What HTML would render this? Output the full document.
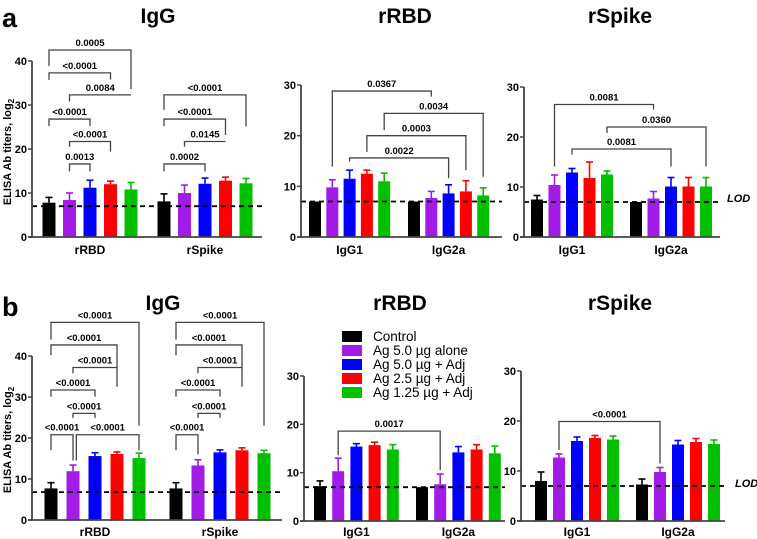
<!DOCTYPE html>
<html><head><meta charset="utf-8"><style>
html,body{margin:0;padding:0;background:#fff;}
svg{display:block;font-family:"Liberation Sans",Arial,sans-serif;}
</style></head><body>
<svg id="fig" width="757" height="539" viewBox="0 0 757 539">
<text x="2" y="27" font-size="27" font-weight="bold">a</text>
<text x="2" y="316" font-size="27" font-weight="bold">b</text>
<text x="158" y="23" font-size="21" font-weight="bold" text-anchor="middle">IgG</text>
<text x="405" y="23" font-size="21" font-weight="bold" text-anchor="middle">rRBD</text>
<text x="620" y="23" font-size="21" font-weight="bold" text-anchor="middle">rSpike</text>
<text x="163" y="310" font-size="21" font-weight="bold" text-anchor="middle">IgG</text>
<text x="400" y="310" font-size="21" font-weight="bold" text-anchor="middle">rRBD</text>
<text x="620" y="310" font-size="21" font-weight="bold" text-anchor="middle">rSpike</text>
<text transform="translate(11,152) rotate(-90)" font-size="11" font-weight="bold" text-anchor="middle">ELISA Ab titers, log<tspan font-size="8" dy="3">2</tspan></text>
<text transform="translate(11,440) rotate(-90)" font-size="11" font-weight="bold" text-anchor="middle">ELISA Ab titers, log<tspan font-size="8" dy="3">2</tspan></text>
<text x="727" y="202" font-size="11" font-weight="bold" font-style="italic">LOD</text>
<text x="735" y="487" font-size="11" font-weight="bold" font-style="italic">LOD</text>
<g>
<rect x="342" y="331" width="20" height="11" fill="#000"/>
<text x="373" y="341" font-size="13.5">Control</text>
<rect x="342" y="345" width="20" height="11" fill="#a21be6"/>
<text x="373" y="355" font-size="13.5">Ag 5.0 µg alone</text>
<rect x="342" y="359" width="20" height="11" fill="#0000ff"/>
<text x="373" y="369" font-size="13.5">Ag 5.0 µg + Adj</text>
<rect x="342" y="373" width="20" height="11" fill="#ff0000"/>
<text x="373" y="383" font-size="13.5">Ag 2.5 µg + Adj</text>
<rect x="342" y="387" width="20" height="11" fill="#00c000"/>
<text x="373" y="397" font-size="13.5">Ag 1.25 µg + Adj</text>
</g>
</svg>
<script>
// ---- data ----
const colors = ["#000000","#a21be6","#0000ff","#ff0000","#00c000"];
const aIgGCats = ["rRBD","rSpike"];
const aIgGVals = [[7.8,8.4,11.2,12.0,10.8],[8.1,10.0,12.1,12.8,12.2]];
const aIgGErr  = [[9.0,10.0,12.9,12.7,12.4],[9.8,11.8,13.4,13.6,13.3]];
const aRbdCats = ["IgG1","IgG2a"];
const aRbdVals = [[7.0,9.8,11.5,12.5,11.0],[7.0,7.7,8.6,9.0,8.2]];
const aRbdErr  = [[7.0,11.3,13.2,13.2,12.6],[7.0,9.0,10.3,11.1,9.7]];
const aSpkCats = ["IgG1","IgG2a"];
const aSpkVals = [[7.5,10.4,12.9,11.8,12.5],[7.0,7.7,10.1,10.1,10.1]];
const aSpkErr  = [[8.3,12.4,13.7,15.0,13.2],[7.0,9.1,11.9,11.9,11.9]];
const bIgGCats = ["rRBD","rSpike"];
const bIgGVals = [[7.7,11.9,15.6,16.1,15.1],[7.7,13.3,16.5,17.0,16.3]];
const bIgGErr  = [[9.1,13.4,16.4,16.6,16.3],[9.1,14.7,17.1,17.6,17.0]];
const bRbdCats = ["IgG1","IgG2a"];
const bRbdVals = [[7.2,10.3,15.4,15.7,14.8],[7.0,7.6,14.2,14.8,14.0]];
const bRbdErr  = [[8.3,13.0,16.0,16.3,15.8],[7.0,9.7,15.4,15.8,15.5]];
const bSpkCats = ["IgG1","IgG2a"];
const bSpkVals = [[8.0,12.7,16.0,16.6,16.3],[7.3,9.8,15.3,15.8,15.4]];
const bSpkErr  = [[9.8,13.4,16.8,17.1,17.0],[8.4,10.7,16.1,16.5,16.2]];
const lodA = 7.0, lodB = 6.8;
const ticks40 = [0,10,20,30,40];
const ticks30 = [0,10,20,30];
// brackets: [group1, bar1, group2, bar2, top, leftEnd, rightEnd, label]
const aIgGBr = [[0,0,0,4,42.5,38.9,33.6,"0.0005"],[0,0,0,3,37.3,35.7,35.8,"<0.0001"],[0,1,0,4,32.3,30.8,32.3,"0.0084"],
 [0,0,0,2,26.8,25.2,25.2,"<0.0001"],[0,1,0,3,21.7,20.5,19.4,"<0.0001"],[0,1,0,2,16.6,14.9,14.9,"0.0013"],
 [1,0,1,4,32.3,28.9,25.1,"<0.0001"],[1,0,1,3,26.8,25.2,23.2,"<0.0001"],[1,1,1,3,21.7,20.5,21.7,"0.0145"],[1,0,1,2,16.6,14.9,14.9,"0.0002"]];
const aRbdBr = [[0,1,1,1,28.8,13.9,27.7,"0.0367"],[0,4,1,4,24.4,21.1,11.9,"0.0034"],[0,3,1,3,20.0,16.8,13.2,"0.0003"],[0,2,1,2,15.6,14.9,11.6,"0.0022"]];
const aSpkBr = [[0,1,1,1,26.5,14.1,25.5,"0.0081"],[0,4,1,4,22.0,20.8,14.1,"0.0360"],[0,2,1,2,17.6,16.5,14.1,"0.0081"]];
const bIgGBr = [[0,0,0,4,48.2,44.0,23.0,"<0.0001"],[0,0,0,3,42.7,40.2,32.5,"<0.0001"],[0,1,0,3,37.2,35.8,37.2,"<0.0001"],
 [0,0,0,2,31.7,30.1,30.1,"<0.0001"],[0,1,0,2,26.0,24.9,24.9,"<0.0001"],[0,0,0,1,20.8,17.0,14.5,"<0.0001"],[0,1.15,0,4,20.8,14.5,17.0,"<0.0001"],
 [1,0,1,4,48.2,44.0,23.0,"<0.0001"],[1,0,1,3,42.7,40.2,32.5,"<0.0001"],[1,1,1,3,37.2,35.8,37.2,"<0.0001"],
 [1,0,1,2,31.7,30.1,30.1,"<0.0001"],[1,1,1,2,26.0,24.9,24.9,"<0.0001"],[1,0,1,1,20.8,17.0,16.0,"<0.0001"]];
const bRbdBr = [[0,1,1,1,18.6,13.6,10.5,"0.0017"]];
const bSpkBr = [[0,1,1,1,19.9,14.2,11.5,"<0.0001"]];

const NS="http://www.w3.org/2000/svg";
const svg=document.getElementById("fig");
function mk(tag,attrs,parent){const e=document.createElementNS(NS,tag);for(const k in attrs)e.setAttribute(k,attrs[k]);(parent||svg).appendChild(e);return e;}

function panel(id,cfg,cats,vals,errs,ticks,lod,brs){
  const g=mk("g",{});
  
  
  const ymax=ticks[ticks.length-1];
  const y=v=>cfg.y0-(v/ymax)*(cfg.y0-cfg.yTop);
  const x=(gi,bi)=>cfg.gx[gi]+bi*cfg.step;
  vals.forEach((arr,gi)=>arr.forEach((v,bi)=>{
    const cx=x(gi,bi), c=colors[bi], e=errs[gi][bi];
    if(e>v+0.05){
      const l=mk("line",{x1:cx,x2:cx,y1:y(v),y2:y(e),stroke:c,"stroke-width":1.6},g);
      
      
      const cap=mk("line",{x1:cx-3.5,x2:cx+3.5,y1:y(e),y2:y(e),stroke:c,"stroke-width":1.6},g);
      
      
    }
    const r=mk("rect",{x:cx-cfg.bw/2,y:y(v),width:cfg.bw,height:cfg.y0-y(v),fill:c},g);
    
    
  }));
  const ld=mk("line",{x1:cfg.ax,x2:cfg.xEnd,y1:y(lod),y2:y(lod),stroke:"#000","stroke-width":1.8,"stroke-dasharray":"5,4"},g);
  
  
  const ya=mk("line",{x1:cfg.ax,x2:cfg.ax,y1:y(ymax),y2:cfg.y0+1,stroke:"#444","stroke-width":1.8},g);
  
  
  const xa=mk("line",{x1:cfg.ax-4,x2:cfg.xEnd,y1:cfg.y0,y2:cfg.y0,stroke:"#444","stroke-width":1.8},g);
  
  
  ticks.forEach(t=>{
    const tk=mk("line",{x1:cfg.ax-4,x2:cfg.ax,y1:y(t),y2:y(t),stroke:"#444","stroke-width":1.5},g);
    
    
    const tl=mk("text",{x:cfg.ax-5,y:y(t)+4,"font-size":11,"font-weight":"bold","text-anchor":"end"},g);
    tl.textContent=t;
    
    
  });
  cats.forEach((c,gi)=>{
    const t=mk("text",{x:x(gi,2),y:cfg.y0+cfg.lo,"font-size":12,"font-weight":"bold","text-anchor":"middle"},g);
    t.textContent=c;
    
    
  });
  brs.forEach(b=>{
    const x1=x(b[0],b[1]), x2=x(b[2],b[3]);
    const p=mk("path",{d:`M${x1},${y(b[5])}V${y(b[4])}H${x2}V${y(b[6])}`,fill:"none",stroke:"#444","stroke-width":1.3},g);
    
    
    const t=mk("text",{x:(x1+x2)/2,y:y(b[4])-4,"font-size":9.5,"font-weight":"bold","text-anchor":"middle"},g);
    t.textContent=b[7];
    
    
  });
}
panel("a-igg",{ax:32,xEnd:262,y0:237,yTop:61,gx:[49,164],step:20.5,bw:13,lo:17},aIgGCats,aIgGVals,aIgGErr,ticks40,lodA,aIgGBr);
panel("a-rrbd",{ax:301,xEnd:502,y0:237,yTop:85,gx:[315,414],step:17.3,bw:12,lo:17},aRbdCats,aRbdVals,aRbdErr,ticks30,lodA,aRbdBr);
panel("a-rspike",{ax:524,xEnd:720,y0:237,yTop:87,gx:[537,636],step:17.5,bw:12,lo:17},aSpkCats,aSpkVals,aSpkErr,ticks30,lodA,aSpkBr);
panel("b-igg",{ax:32,xEnd:282,y0:520,yTop:356,gx:[51,176],step:22,bw:13,lo:16},bIgGCats,bIgGVals,bIgGErr,ticks40,lodB,bIgGBr);
panel("b-rrbd",{ax:304,xEnd:505,y0:521,yTop:376,gx:[320,422],step:18.2,bw:12,lo:15},bRbdCats,bRbdVals,bRbdErr,ticks30,lodA,bRbdBr);
panel("b-rspike",{ax:521,xEnd:725,y0:521,yTop:371,gx:[541,642],step:18,bw:12,lo:15},bSpkCats,bSpkVals,bSpkErr,ticks30,lodA,bSpkBr);
</script>
</body></html>
